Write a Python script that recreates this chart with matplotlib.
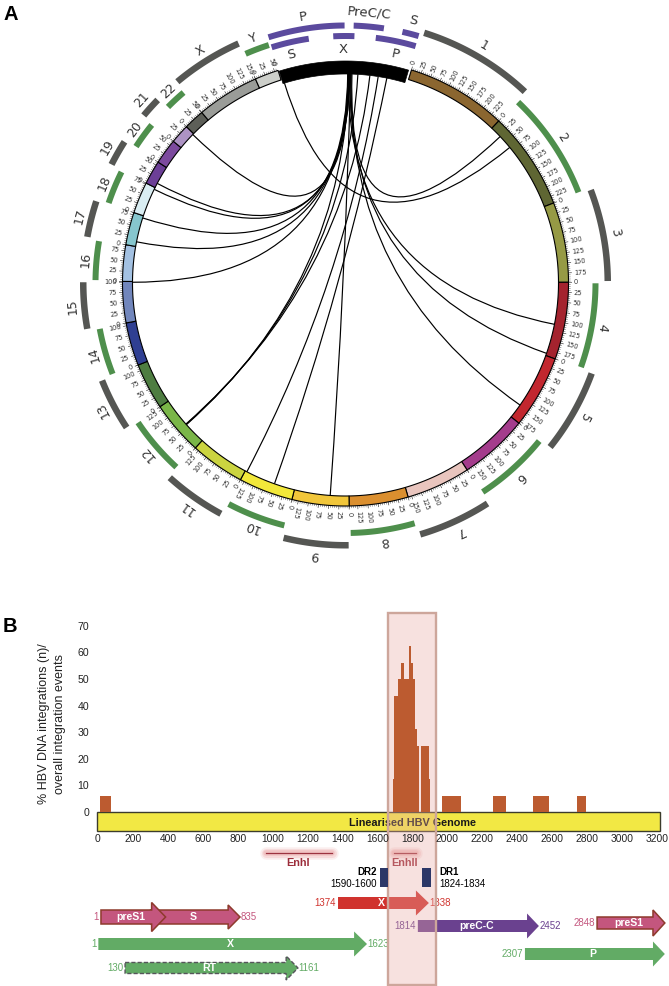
import numpy as np
import matplotlib
matplotlib.use('Agg')
import matplotlib.pyplot as plt
from matplotlib.patches import Polygon, PathPatch, Rectangle
from matplotlib.path import Path
from matplotlib.transforms import blended_transform_factory

plt.rcParams['font.family'] = ['Liberation Sans', 'DejaVu Sans']

# panel A: chromosomes
chrom_names = ['1', '2', '3', '4', '5', '6', '7', '8', '9', '10', '11', '12', '13', '14',
               '15', '16', '17', '18', '19', '20', '21', '22', 'X', 'Y']
chrom_mb = [249, 243, 198, 191, 181, 171, 159, 146, 141, 135, 135, 133, 115, 107,
            102, 90, 81, 78, 59, 63, 48, 51, 155, 59]
chrom_colors = ['#8B6630', '#5F6633', '#969A45', '#A4232E', '#C2272F', '#A43C8C', '#E9C5BE', '#DB8F2F',
                '#F1C63A', '#F2E83A', '#CBD440', '#7AB648', '#4E7D41', '#2F3F92', '#7186BC', '#A3C1E2',
                '#86C6CE', '#D9EDF2', '#6C3F97', '#7C4A9E', '#AD93C4', '#5D5F58', '#9A9C98', '#CDCFCA']

# HBV genome arcs in the outer tracks (bp)
hbv_len = 3200
hbv_outer_genes = [('P', 0, 1623), ('PreC/C', 1814, 2452), ('S', 2848, 3200)]
hbv_inner_genes = [('S', 0, 835), ('X', 1374, 1838), ('P', 2307, 3200)]

# links: HBV bp, chromosome, Mb
link_hbv = [40, 1810, 1708, 1756, 1790, 1720, 1740, 1700, 1730, 1760, 1750, 1725, 1775, 1963, 2275, 2492, 2719]
link_chrom = ['2', '2', '4', '4', '5', '15', '17', '17', '18', '19', '21', '12', '9', '12', '12', '10', '10']
link_mb = [67, 30, 108, 185, 143, 100, 12, 75, 73, 12, 45, 57, 48, 58, 59, 130, 53]

# panel B: histogram of integrations
bar_starts = [10, 1689, 1695, 1719, 1736, 1752, 1778, 1791, 1803, 1816, 1824, 1849, 1896, 1967, 2260, 2488, 2740]
bar_ends = [75, 1695, 1719, 1736, 1752, 1778, 1791, 1803, 1816, 1824, 1839, 1896, 1902, 2078, 2335, 2582, 2793]
bar_pct = [6.2, 12.4, 43.6, 49.8, 56, 49.8, 62.3, 56, 49.8, 31.1, 24.9, 24.9, 12.4, 6.2, 6.2, 6.2, 6.2]

x_ticks = list(range(0, 3400, 200))
y_ticks = [0, 10, 20, 30, 40, 50, 60, 70]

# panel B: gene arrows as drawn (bp)
gene_names = ['S', 'preS1', 'X', 'RT', 'X', 'preC-C', 'preS1', 'P']
gene_starts = [301, 17, 2, 155, 1374, 1831, 2857, 2444]
gene_ends = [813, 387, 1540, 1145, 1894, 2524, 3245, 3245]
gene_start_text = ['', '1', '1', '130', '1374', '1814', '2848', '2307']
gene_end_text = ['835', '', '1623', '1161', '1838', '2452', '', '']

W, H = 669, 986
fig = plt.figure(figsize=(W / 100, H / 100), dpi=100)
ax = fig.add_axes([0, 0, 1, 1])
ax.set_xlim(0, W)
ax.set_ylim(H, 0)
ax.axis('off')

cx, cy = 345.5, 283.0
R_in, R_out = 213.0, 223.0


def polar(theta, r):
    t = np.radians(theta)
    return cx + r * np.sin(t), cy - r * np.cos(t)


def arc_band(theta1, theta2, r1, r2, **kw):
    th = np.linspace(theta1, theta2, 60)
    xo, yo = polar(th, r2)
    xi, yi = polar(th[::-1], r1)
    pts = np.column_stack([np.r_[xo, xi], np.r_[yo, yi]])
    ax.add_patch(Polygon(pts, closed=True, **kw))


# degrees per Mb, chr1 starts just after the HBV segment
theta0 = 17.2
deg_per_mb = (342.4 - theta0) / sum(chrom_mb)
chrom_start = {}
angle = theta0
for name, mb, col in zip(chrom_names, chrom_mb, chrom_colors):
    chrom_start[name] = angle
    span = mb * deg_per_mb
    arc_band(angle, angle + span, R_in, R_out, facecolor=col, edgecolor='black', lw=0.8, zorder=3)

    # outer name track, even chromosomes sit on the inner of the two rings
    even = chrom_names.index(name) % 2 == 1
    if even:
        arc_band(angle + 0.25, angle + span - 0.25, 247, 253, facecolor='#4E8F4C', edgecolor='none')
    else:
        arc_band(angle + 0.25, angle + span - 0.25, 259, 265.5, facecolor='#555653', edgecolor='none')
    mid = angle + span / 2
    lx, ly = polar(mid, 261 if even else 274)
    ax.text(lx, ly, name, rotation=-mid, rotation_mode='anchor', ha='center', va='center',
            fontsize=9, family='DejaVu Sans', color='#333333')

    # scale ticks
    flip = angle > 205
    for v in range(0, mb + 1, 5):
        th = angle + v * deg_per_mb
        major = v % 25 == 0
        x1, y1 = polar(th, R_out)
        x2, y2 = polar(th, R_out + (3.5 if major else 2.2))
        ax.plot([x1, x2], [y1, y2], color='#333333', lw=0.45 if major else 0.3, solid_capstyle='butt')
        if major:
            tx, ty = polar(th, R_out + 5.5)
            if flip:
                ax.text(tx, ty, str(v), rotation=270 - th, rotation_mode='anchor', ha='right', va='center',
                        fontsize=4.8, family='DejaVu Sans', color='#333333')
            else:
                ax.text(tx, ty, str(v), rotation=90 - th, rotation_mode='anchor', ha='left', va='center',
                        fontsize=4.8, family='DejaVu Sans', color='#333333')
    angle += span

# HBV segment
hbv_a, hbv_b = -17.4, 16.5


def hbv_theta(bp):
    return hbv_a + bp / hbv_len * (hbv_b - hbv_a)


arc_band(hbv_a, hbv_b, 209, 222, facecolor='black', edgecolor='black', lw=0.5, zorder=3)
tx, ty = polar(hbv_a, R_out + 5.5)
ax.text(tx, ty, '0', rotation=90 - hbv_a, rotation_mode='anchor', ha='left', va='center',
        fontsize=4.8, family='DejaVu Sans', color='#333333')

for name, a, b in hbv_outer_genes:
    arc_band(hbv_theta(a), hbv_theta(b), 254.5, 260.5, facecolor='#5B4A9E', edgecolor='none')
for name, a, b in hbv_inner_genes:
    arc_band(hbv_theta(a), hbv_theta(b), 244, 250, facecolor='#5B4A9E', edgecolor='none')

for (lx, ly, s) in [(303, 17, 'P'), (369, 13, 'PreC/C'), (413, 21, 'S'), (291, 55, 'S'), (343, 49, 'X'), (395, 54, 'P')]:
    rot = -np.degrees(np.arctan2(lx - cx, cy - ly))
    ax.text(lx, ly, s, rotation=rot, rotation_mode='anchor', ha='center', va='center',
            fontsize=9.5, family='DejaVu Sans', color='#333333')

# links
for bp, ch, mb in zip(link_hbv, link_chrom, link_mb):
    p0 = polar(hbv_theta(bp), 209)
    p2 = polar(chrom_start[ch] + mb * deg_per_mb, R_in)
    path = Path([p0, (cx, cy), p2], [Path.MOVETO, Path.CURVE3, Path.CURVE3])
    ax.add_patch(PathPatch(path, facecolor='none', edgecolor='black', lw=0.85, zorder=2))

ax.text(3, 15, 'A', fontsize=14.5, fontweight='bold', va='center')
ax.text(3, 627, 'B', fontsize=14.5, fontweight='bold', va='center')

# panel B, lower part: x in bp, y in pixel rows
x0, x1 = 98.0, 657.0
top, bottom = 812.0, 986.0
ax_g = fig.add_axes([x0 / W, 1 - bottom / H, (x1 - x0) / W, (bottom - top) / H], zorder=1)
ax_g.set_xlim(0, hbv_len)
ax_g.set_ylim(bottom, top)
ax_g.axis('off')

ax_g.add_patch(Rectangle((-4, 812.3), hbv_len + 21, 18.4, facecolor='#F2E844', edgecolor='#3C3C2C', lw=1.0, clip_on=False))
ax_g.text(1801, 822.7, 'Linearised HBV Genome', fontsize=7.8, fontweight='bold', ha='center', va='center', color='#1A1A1A')


def gene_arrow(start, end, y, shaft, head, head_len, **kw):
    neck = end - head_len
    pts = [(start, y - shaft / 2), (neck, y - shaft / 2), (neck, y - head / 2), (end, y),
           (neck, y + head / 2), (neck, y + shaft / 2), (start, y + shaft / 2)]
    ax_g.add_patch(Polygon(pts, closed=True, clip_on=False, **kw))


pink = dict(facecolor='#C4567E', edgecolor='#8E3A2C', lw=1.1)
green = dict(facecolor='#62AB65', edgecolor='none')
gene_style = [pink, pink, green,
              dict(facecolor='#62AB65', edgecolor='#55555A', lw=1.0, linestyle=(0, (3, 1.5))),
              dict(facecolor='#D0332E', edgecolor='none'),
              dict(facecolor='#6A418F', edgecolor='none'),
              pink, green]
gene_y = [917, 917, 944, 968, 903, 926, 923, 954]
gene_shaft = [14, 14, 12, 11, 12, 12, 12, 12]
gene_head = [24, 29, 25, 24, 25, 25, 26, 25]
gene_head_len = [68, 80, 74, 68, 74, 68, 68, 68]
start_col = ['#C4567E', '#C4567E', '#62AB65', '#62AB65', '#D0332E', '#6A418F', '#C4567E', '#62AB65']
end_col = start_col

for i, name in enumerate(gene_names):
    gene_arrow(gene_starts[i], gene_ends[i], gene_y[i], gene_shaft[i], gene_head[i], gene_head_len[i], **gene_style[i])
    mid = (gene_starts[i] + gene_ends[i]) / 2 - 12
    ax_g.text(mid, gene_y[i], name, color='white', fontsize=7.6, fontweight='bold', ha='center', va='center')
    if gene_start_text[i]:
        ax_g.annotate(gene_start_text[i], (gene_starts[i], gene_y[i]), xytext=(-1.5, 0), textcoords='offset points',
                      ha='right', va='center', fontsize=7, color=start_col[i])
    if gene_end_text[i]:
        ax_g.annotate(gene_end_text[i], (gene_ends[i], gene_y[i]), xytext=(0.5, 0), textcoords='offset points',
                      ha='left', va='center', fontsize=7, color=end_col[i])

# enhancers
for a, b, s, c in [(962, 1339, 'EnhI', 1143), (1694, 1820, 'EnhII', 1752)]:
    for lw, al in [(9, 0.10), (6.5, 0.15), (4, 0.2)]:
        ax_g.plot([a, b], [852.7, 852.7], color='#E06A6A', lw=lw, alpha=al, solid_capstyle='round')
    ax_g.plot([a, b], [852.7, 852.7], color='#9C3340', lw=0.9)
    ax_g.text(c, 863.5, s, color='#9C2D3B', fontsize=7.8, fontweight='bold', ha='center', va='center')

ax_g.text(1597, 871.7, 'DR2', fontsize=7, fontweight='bold', ha='right', va='center')
ax_g.text(1597, 884, '1590-1600', fontsize=7, ha='right', va='center')
ax_g.text(1952, 871.7, 'DR1', fontsize=7, fontweight='bold', ha='left', va='center')
ax_g.text(1952, 884, '1824-1834', fontsize=7, ha='left', va='center')

# highlighted region over the genome
trans = blended_transform_factory(ax_g.transData, fig.transFigure)
fig.add_artist(Rectangle((1660, 1 - 985 / H), 275, (985 - 613) / H, transform=trans, facecolor='#E9A9A4',
                         alpha=0.35, edgecolor='none', zorder=5))
fig.add_artist(Rectangle((1660, 1 - 985 / H), 275, (985 - 613) / H, transform=trans, facecolor='none',
                         edgecolor='#CDA69B', lw=1.7, zorder=6))

# panel B, histogram
hist_bottom = 830.7
hist_top = 625.7
ax_h = fig.add_axes([x0 / W, 1 - hist_bottom / H, (x1 - x0) / W, (hist_bottom - hist_top) / H], zorder=12)
ax_h.patch.set_visible(False)
ax_h.bar(bar_starts, bar_pct, width=np.array(bar_ends) - np.array(bar_starts), align='edge',
         color='#BC5B30', edgecolor='none')
ax_h.set_xlim(0, hbv_len)
ax_h.set_ylim(-7, 70)
ax_h.set_xticks(x_ticks)
ax_h.set_yticks(y_ticks)
ax_h.tick_params(axis='x', length=0, pad=2.5, labelsize=7.4, colors='#222222')
ax_h.tick_params(axis='y', length=0, pad=6.5, labelsize=7.6, colors='#222222')
for s in ax_h.spines.values():
    s.set_visible(False)

# direct repeats stay dark above the highlight
for a, b in [(1614, 1660), (1856, 1904)]:
    ax_h.add_patch(Rectangle((a, 868), b - a, 19, transform=ax_g.transData, facecolor='#2C3767',
                             edgecolor='none', clip_on=False))

ax.text(52, 724, '% HBV DNA integrations (n)/\noverall integration events', rotation=90, fontsize=9,
        ha='center', va='center', ma='center', linespacing=1.35, color='#222222')

fig.savefig('out.png', dpi=100)
